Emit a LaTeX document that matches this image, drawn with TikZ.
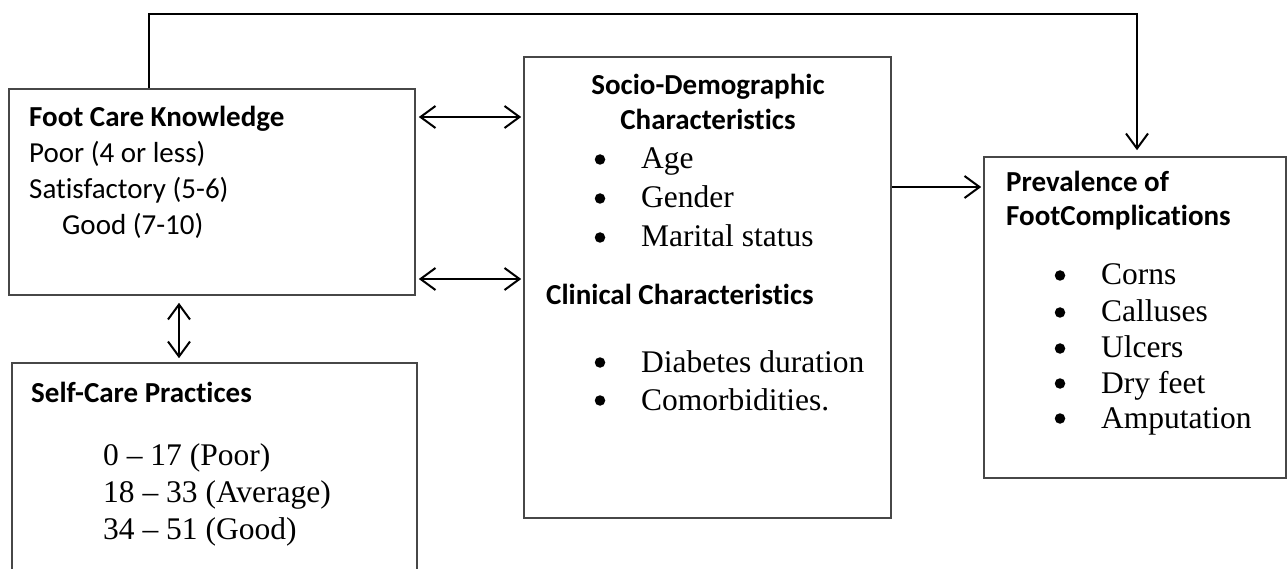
\documentclass[tikz,border=0pt]{standalone}
\usepackage{fontspec}
\setmainfont{Liberation Serif}
\newfontfamily\calfont[Ligatures=NoCommon]{Carlito}
\usetikzlibrary{arrows.meta}
\definecolor{boxgray}{HTML}{474747}
\begin{document}
\begin{tikzpicture}[x=1pt,y=-1pt,
  box/.style={draw=boxgray, line width=1.6pt, rectangle, inner sep=0pt},
  con/.style={line width=2pt, draw=black},
  barb/.tip={Straight Barb[length=15pt,width=22pt,line width=2pt]},
  tipend/.style={-barb},
  dbl/.style={barb-barb},
  hd/.style={font=\calfont\bfseries\fontsize{29}{35}\selectfont, inner sep=0pt, anchor=base west},
  cl/.style={font=\calfont\fontsize{29}{35}\selectfont, inner sep=0pt, anchor=base west},
  sr/.style={font=\fontsize{31.5}{38}\selectfont, inner sep=0pt, anchor=base west},
  bul/.style={circle, fill=black, inner sep=0pt, minimum size=10.5pt}
]
\useasboundingbox (0,0) rectangle (1288,569);
\clip (0,0) rectangle (1288,569);
\fill[white] (0,0) rectangle (1288,569);

% boxes
\node[box, minimum width=406pt, minimum height=206pt] (fck) at (212,192) {};
\node[box, minimum width=405pt, minimum height=240pt] (sc) at (214.5,483) {};
\node[box, minimum width=367pt, minimum height=461pt] (mid) at (707.5,287.5) {};
\node[box, minimum width=302pt, minimum height=321pt] (prev) at (1135,317.5) {};

% Foot Care Knowledge
\node[hd] (t1) at (29,127) {Foot Care Knowledge};
\node[cl] (t2) at (29,163) {Poor (4 or less)};
\node[cl] (t3) at (29,199) {Satisfactory (5-6)};
\node[cl] (t4) at (62,235) {Good (7-10)};

% Self-Care
\node[hd] (s1) at (31,402) {Self-Care Practices};
\node[sr] (s2) at (103,465) {0 -- 17 (Poor)};
\node[sr] (s3) at (103,502) {18 -- 33 (Average)};
\node[sr] (s4) at (103,539) {34 -- 51 (Good)};

% Middle box
\node[hd, anchor=base] (m1) at (708,95) {Socio-Demographic};
\node[hd, anchor=base] (m2) at (708,130) {Characteristics};
\foreach \t/\y [count=\i] in {Age/169, Gender/208, Marital status/247, Diabetes duration/372, Comorbidities./410}{
  \node[bul] (mb\i) at (600,\y-9.5) {};
  \node[sr] (mt\i) at (641,\y) {\t};
}
\node[hd] (m3) at (546,305) {Clinical Characteristics};

% Right box
\node[hd] (p1) at (1006,192) {Prevalence of};
\node[hd] (p2) at (1006,226) {FootComplications};
\foreach \t/\y [count=\i] in {Corns/285, Calluses/322, Ulcers/358, Dry feet/393, Amputation/428}{
  \node[bul] (pb\i) at (1060,\y-9.5) {};
  \node[sr] (pt\i) at (1101,\y) {\t};
}

% connectors
\draw[con, dbl, shorten <=3pt, shorten >=2pt] (fck.east |- 0,117) -- (mid.west |- 0,117);
\draw[con, dbl, shorten <=3pt, shorten >=2pt] (fck.east |- 0,279) -- (mid.west |- 0,279);
\draw[con, dbl, shorten <=7pt, shorten >=4pt] (fck.south -| 179,0) -- (sc.north -| 179,0);
\draw[con, tipend, shorten >=2pt] (mid.east |- 0,187) -- (prev.west |- 0,187);
\draw[con, tipend, shorten >=6pt] (fck.north -| 149,0) -- (149,14) -| (prev.north -| 1137,0);
\end{tikzpicture}
\end{document}
